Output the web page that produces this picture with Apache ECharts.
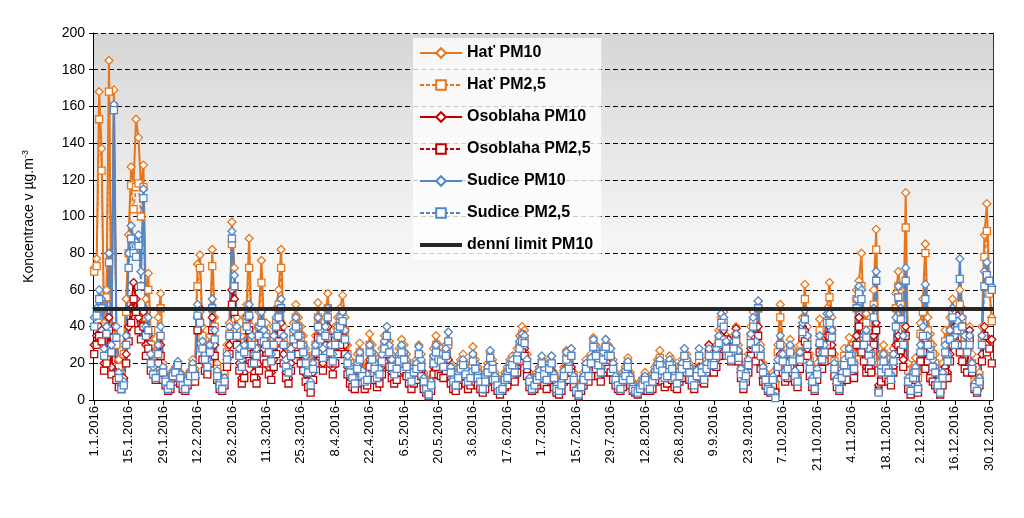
<!DOCTYPE html>
<html><head><meta charset="utf-8">
<script src="https://cdn.jsdelivr.net/npm/echarts@6/dist/echarts.min.js"></script>
<style>html,body{margin:0;padding:0;background:#fff}#c{width:1024px;height:518px}</style>
</head><body><div id="c"></div>
<script>
// ---- data (daily values, 1.1.2016 - 31.12.2016) ----
const hatPM10 = [
72,77,168,137,42,60,185,40,169,35,22,15,30,55,
90,127,118,153,143,116,128,55,69,35,30,22,45,58,
20,14,10,12,16,18,19,15,12,10,14,16,22,17,
74,79,40,28,25,35,82,45,20,12,10,15,30,42,
97,72,45,30,35,45,52,88,40,30,35,48,76,42,
42,35,30,40,50,60,82,40,25,20,30,42,52,45,
40,35,28,22,15,25,35,53,40,30,45,58,35,30,
40,45,50,57,45,30,22,20,15,25,31,20,15,18,
36,30,25,18,20,28,35,40,32,25,20,22,28,33,
30,25,18,15,20,22,30,25,15,10,5,12,28,35,
30,28,25,30,37,20,15,12,18,22,25,20,15,18,
29,22,18,14,10,15,20,26,22,15,12,8,10,15,
18,22,24,20,28,35,40,38,25,15,10,12,15,18,
22,18,15,22,24,15,10,8,12,18,27,22,28,15,
8,5,10,15,22,18,25,34,30,25,20,28,33,30,
28,22,15,12,10,15,18,23,15,10,8,6,10,12,
15,12,10,14,18,22,27,20,15,18,24,22,15,12,
18,22,28,25,20,15,12,18,25,20,15,22,30,25,
25,30,38,45,48,35,30,28,35,40,30,20,12,18,
25,40,48,35,54,30,20,15,10,8,15,10,30,52,
30,20,25,33,28,20,15,30,45,63,40,25,15,10,
20,44,30,35,50,64,45,25,15,10,20,28,22,34,
30,25,60,65,80,40,47,35,30,60,93,20,25,30,
25,22,18,28,58,70,60,40,113,20,10,18,23,15,
42,55,85,45,36,30,25,15,8,20,38,30,45,55,
45,40,60,50,40,35,40,25,12,8,15,40,90,107,
62,45];
const hatPM25 = [
70,73,153,125,40,56,168,36,160,30,18,12,25,48,
80,117,104,116,118,100,116,45,60,30,25,18,38,50,
16,12,8,10,13,15,16,12,10,8,12,13,18,14,
62,72,35,24,20,30,73,40,17,10,8,12,26,36,
85,62,38,25,28,38,44,72,34,25,30,40,64,36,
36,30,25,34,42,52,72,34,20,16,25,36,45,40,
34,30,24,18,12,20,30,45,34,25,38,50,30,25,
34,38,42,48,38,25,18,16,12,20,26,16,12,15,
30,25,20,15,16,23,30,34,27,20,16,18,23,28,
25,20,15,12,16,18,25,20,12,8,4,10,23,30,
25,23,20,25,30,16,12,10,15,18,20,16,12,15,
24,18,15,12,8,12,16,22,18,12,10,6,8,12,
15,18,20,17,24,30,36,33,21,12,8,10,12,15,
18,15,12,18,20,12,8,6,10,15,23,18,24,12,
6,4,8,12,18,15,21,30,26,21,17,24,29,26,
24,18,12,10,8,12,15,20,12,8,6,5,8,10,
12,10,8,11,15,18,23,17,12,15,20,18,12,10,
15,18,24,21,17,12,10,15,21,17,12,18,26,21,
21,26,33,40,42,30,26,24,30,35,26,17,10,15,
21,35,42,30,50,26,17,12,8,6,12,8,26,45,
25,16,21,28,24,17,12,26,38,55,34,21,12,8,
17,38,26,30,43,56,38,21,12,8,16,24,18,28,
25,20,55,60,62,34,42,30,25,52,82,16,20,25,
20,18,15,24,50,62,52,34,94,16,8,15,19,12,
36,48,80,38,30,25,20,12,6,16,32,25,38,48,
38,34,52,44,34,30,34,20,10,6,12,34,78,92,
58,43];
const osoPM10 = [
30,35,40,38,20,25,45,18,40,15,10,8,12,25,
40,50,64,55,45,40,48,30,35,20,18,14,25,30,
14,10,7,8,12,13,15,11,8,6,10,12,16,12,
45,50,28,20,18,26,45,30,14,8,7,10,22,30,
60,55,35,20,12,15,30,45,25,15,12,20,38,28,
25,18,15,22,30,38,42,25,15,12,20,30,35,30,
25,20,14,10,6,15,25,40,30,20,30,40,25,18,
25,30,35,40,30,18,12,10,8,15,20,12,8,10,
22,18,14,10,12,18,24,30,22,15,12,14,18,22,
20,16,12,8,12,14,20,16,8,5,3,7,18,22,
18,16,15,20,22,12,8,6,10,14,16,12,8,10,
15,12,10,8,5,8,12,16,14,9,7,4,6,9,
10,14,16,12,18,25,30,28,16,9,6,8,10,12,
14,10,8,14,16,9,5,4,7,12,18,14,18,9,
5,3,6,10,14,12,16,24,20,16,13,18,22,20,
18,14,10,8,6,9,12,15,10,6,5,4,6,8,
9,7,6,8,12,14,16,12,9,11,15,14,9,8,
12,15,20,18,14,10,8,12,18,15,11,18,30,22,
18,22,28,35,38,28,33,25,30,39,25,15,8,12,
18,28,35,25,40,20,12,10,6,5,10,5,18,25,
18,12,15,22,18,12,9,20,40,38,28,16,9,6,
14,30,20,25,35,40,30,16,9,6,12,18,14,22,
18,15,35,45,30,25,18,20,18,35,42,8,12,18,
15,12,10,18,30,35,32,22,40,8,4,10,14,6,
25,30,20,25,15,12,10,8,4,10,18,15,25,35,
40,46,30,25,20,18,38,18,8,5,10,25,40,30,
33,33];
const osoPM25 = [
25,30,35,32,16,20,38,14,34,11,7,6,9,20,
32,42,55,48,38,33,40,24,28,16,14,11,20,24,
11,8,5,6,10,10,12,9,6,5,8,10,13,10,
38,42,22,16,14,20,38,24,11,6,5,8,18,25,
52,48,30,16,9,12,25,38,20,12,9,16,32,22,
20,14,11,18,25,32,36,20,12,9,16,25,30,25,
20,16,10,7,4,11,20,34,25,16,25,34,20,14,
20,25,30,34,25,14,9,7,6,12,16,9,6,8,
18,14,11,7,9,14,20,25,18,12,9,11,15,18,
16,13,9,6,9,11,16,13,6,4,2,5,14,18,
14,13,12,16,18,9,6,5,8,11,13,9,6,8,
12,10,8,6,4,6,10,13,11,7,5,3,5,7,
8,11,13,10,15,21,26,24,13,7,5,6,8,10,
11,8,6,11,13,7,4,3,5,10,15,11,15,7,
4,2,5,8,11,10,13,20,17,13,10,15,18,17,
15,11,8,6,5,7,10,12,8,5,4,3,5,6,
7,5,5,6,10,11,13,10,7,9,12,11,7,6,
10,12,17,15,11,8,6,10,15,12,9,15,26,19,
15,18,24,30,33,24,28,21,26,34,21,12,6,10,
15,24,30,21,35,17,10,8,5,4,8,4,15,20,
15,10,12,18,15,10,7,17,34,32,24,13,7,5,
11,26,17,21,30,35,26,13,7,5,10,15,11,18,
15,12,30,40,26,21,15,17,15,30,38,5,10,15,
12,10,8,15,25,30,27,18,35,6,3,8,11,4,
21,26,17,21,12,10,8,6,3,8,15,12,21,30,
35,40,26,21,17,15,33,15,6,4,8,21,35,26,
28,20];
const sudPM10 = [
45,50,60,55,28,40,80,30,161,40,15,8,10,35,
80,95,88,86,90,70,115,40,45,25,18,15,30,40,
18,12,7,9,15,17,21,14,10,8,12,15,20,15,
52,48,32,25,22,30,55,38,16,10,8,12,25,40,
92,68,40,28,22,30,45,52,35,25,28,40,48,38,
35,30,25,35,45,50,55,35,22,18,28,38,45,40,
35,30,24,18,10,20,30,45,38,28,40,50,30,25,
35,40,45,48,38,24,18,15,12,20,26,16,12,14,
30,26,20,15,17,25,32,40,30,22,17,20,25,30,
26,22,16,12,18,20,29,22,12,8,4,10,24,30,
26,25,22,28,37,18,12,10,15,20,22,17,12,15,
25,20,15,12,8,13,18,27,20,13,10,6,8,13,
15,20,22,18,25,32,36,35,22,12,8,10,13,16,
24,17,13,20,24,14,8,6,10,16,26,20,28,13,
6,4,8,13,20,16,23,33,28,22,18,26,33,28,
28,20,13,10,8,13,16,21,13,8,6,5,8,10,
13,10,8,12,16,20,22,19,14,16,22,20,14,11,
16,20,28,22,18,13,10,16,28,18,13,20,28,22,
22,28,35,47,45,32,28,25,32,36,27,17,10,15,
22,36,45,32,54,28,18,13,8,6,13,2,22,35,
25,16,20,30,24,16,12,26,42,49,35,20,12,8,
17,35,26,30,47,47,38,20,12,8,15,22,18,28,
25,20,55,62,60,35,38,28,25,50,70,5,18,25,
20,18,14,25,45,62,50,35,72,12,6,15,18,8,
30,40,63,35,28,22,18,10,5,15,30,25,38,50,
35,43,77,45,35,30,35,20,9,6,12,35,70,75,
62,62];
const sudPM25 = [
40,46,55,50,24,36,75,26,158,34,12,6,8,30,
72,88,80,78,84,62,110,35,38,20,14,12,25,35,
15,10,6,8,13,15,19,12,8,6,10,13,17,13,
46,42,28,22,18,26,50,33,13,8,6,10,22,35,
88,62,35,24,18,26,40,46,30,20,24,35,42,32,
30,26,21,30,40,45,50,30,18,15,24,33,40,35,
30,26,20,15,8,17,26,40,33,23,35,45,26,21,
30,35,40,43,33,20,15,12,9,17,22,13,10,11,
26,22,17,12,14,21,28,35,26,18,14,17,21,26,
22,18,13,10,15,17,25,18,10,6,3,8,20,26,
22,21,18,24,32,15,10,8,12,17,19,14,10,12,
21,17,12,10,6,10,15,23,17,11,8,5,6,11,
12,17,19,15,22,28,32,31,19,10,6,8,11,13,
20,14,11,17,20,12,6,5,8,13,22,17,24,11,
5,3,7,11,17,13,20,29,24,19,15,22,29,24,
24,17,11,8,6,11,13,18,11,6,5,4,6,8,
11,8,6,10,13,17,19,16,12,13,19,17,12,9,
13,17,24,19,15,11,8,13,24,15,11,17,24,19,
19,24,31,42,40,28,24,22,28,32,23,14,8,13,
19,31,40,28,50,24,15,11,6,5,11,1,18,30,
21,13,17,26,21,13,10,22,37,44,30,17,10,6,
14,31,22,26,42,42,34,17,10,6,12,19,15,24,
21,17,50,58,55,30,34,24,21,45,65,4,15,21,
17,15,11,21,40,56,44,30,65,10,5,12,15,6,
26,35,55,30,24,18,15,8,4,12,26,21,33,45,
30,38,66,40,30,26,30,17,7,5,10,30,62,68,
65,60];
const dailyLimit = 50;
const seriesNames = ['Hať PM10','Hať PM2,5','Osoblaha PM10','Osoblaha PM2,5','Sudice PM10','Sudice PM2,5','denní limit PM10'];
// category labels: d.m.2016 for each day of 2016
const monthLengths = [31,29,31,30,31,30,31,31,30,31,30,31];
const categories = [];
monthLengths.forEach((n, m) => { for (let d = 1; d <= n; d++) categories.push(d + '.' + (m + 1) + '.2016'); });

const ORANGE = '#E8761A', RED = '#C00000', BLUE = '#5286C8';
function mk(name, data, color, dashed, symbol) {
  return {
    name, type: 'line', data,
    symbol, symbolSize: symbol === 'rect' ? 7 : 8, showAllSymbol: true,
    lineStyle: { color, width: dashed ? 1.6 : 2, type: dashed ? [4, 2] : 'solid' },
    itemStyle: { color: '#ffffff', borderColor: color, borderWidth: 1.3 },
    emphasis: { disabled: true }, animation: false
  };
}
const legendData = seriesNames.map((n, i) => i === 6 ? { name: n, itemStyle: { opacity: 0 }, lineStyle: { width: 4, color: '#262626' } } : n);
const chart = echarts.init(document.getElementById('c'), null, { renderer: 'canvas' });
chart.setOption({
  animation: false,
  backgroundColor: '#ffffff',
  textStyle: { fontFamily: 'Liberation Sans, Arial, sans-serif' },
  grid: {
    left: 93, right: 31, top: 33, bottom: 118, show: true,
    borderWidth: 0,
    backgroundColor: new echarts.graphic.LinearGradient(0, 0, 0, 1, [
      { offset: 0, color: '#d6d6d6' }, { offset: 0.55, color: '#f4f4f4' }, { offset: 0.85, color: '#ffffff' }, { offset: 1, color: '#ffffff' }
    ])
  },
  legend: {
    orient: 'vertical', left: 413, top: 38,
    itemWidth: 42, itemHeight: 12, itemGap: 16,
    padding: [7, 8, 7, 5],
    backgroundColor: 'rgba(255,255,255,0.8)',
    data: legendData,
    textStyle: { fontSize: 16, fontWeight: 'bold', color: '#000', fontFamily: 'Liberation Sans, Arial, sans-serif' }
  },
  xAxis: {
    type: 'category', data: categories, boundaryGap: true,
    axisLine: { lineStyle: { color: '#000', width: 1 } },
    axisTick: { show: true, interval: 13, alignWithLabel: true, length: 5, lineStyle: { color: '#000' } },
    axisLabel: { interval: 13, rotate: 90, fontSize: 13, color: '#000', margin: 6 },
    splitLine: { show: false }
  },
  yAxis: [{
    type: 'value', min: 0, max: 200, interval: 20,
    name: 'Koncentrace v µg.m{sup|-3}', nameLocation: 'middle', nameGap: 55, nameRotate: 90,
    nameTextStyle: { fontSize: 14, color: '#000', rich: { sup: { fontSize: 9, verticalAlign: 'top', padding: [0, 0, 8, 0] } } },
    axisLine: { show: true, lineStyle: { color: '#000' } },
    axisTick: { show: true, length: 4, lineStyle: { color: '#000' } },
    axisLabel: { fontSize: 14, color: '#000', margin: 8 },
    splitLine: { show: true, lineStyle: { color: '#000', type: [5, 3], width: 1 } }
  }, {
    type: 'value', min: 0, max: 200, interval: 20, position: 'right',
    axisLine: { show: true, lineStyle: { color: '#333' } },
    axisTick: { show: false }, axisLabel: { show: false }, splitLine: { show: false }
  }],
  series: [
    mk(seriesNames[0], hatPM10, ORANGE, false, 'diamond'),
    mk(seriesNames[1], hatPM25, ORANGE, true, 'rect'),
    mk(seriesNames[2], osoPM10, RED, false, 'diamond'),
    mk(seriesNames[3], osoPM25, RED, true, 'rect'),
    mk(seriesNames[4], sudPM10, BLUE, false, 'diamond'),
    mk(seriesNames[5], sudPM25, BLUE, true, 'rect'),
    {
      name: seriesNames[6], type: 'line', data: [], symbol: 'none',
      lineStyle: { color: '#262626', width: 4 }, itemStyle: { color: '#262626' },
      markLine: {
        silent: true, symbol: 'none', label: { show: false }, z: 20,
        lineStyle: { color: '#262626', width: 4, type: 'solid' },
        data: [{ yAxis: dailyLimit }]
      }
    }
  ]
});
</script></body></html>
